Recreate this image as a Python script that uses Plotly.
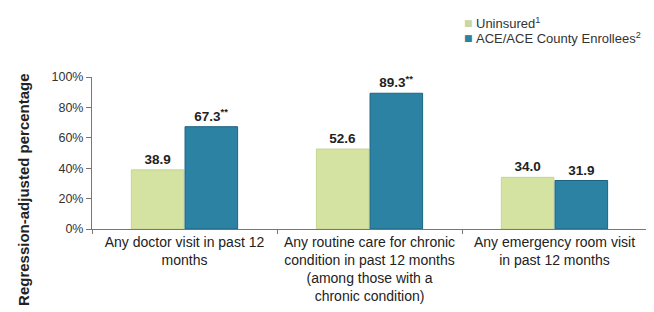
import plotly.graph_objects as go

categories = [
    "Any doctor visit in past 12<br>months",
    "Any routine care for chronic<br>condition in past 12 months<br>(among those with a<br>chronic condition)",
    "Any emergency room visit<br>in past 12 months",
]
uninsured = [38.9, 52.6, 34.0]
enrollees = [67.3, 89.3, 31.9]
enrollee_sig = ["**", "**", ""]
series_names = ["Uninsured<sup>1</sup>", "ACE/ACE County Enrollees<sup>2</sup>"]
y_ticks = [0, 20, 40, 60, 80, 100]
y_tick_labels = ["0%", "20%", "40%", "60%", "80%", "100%"]

GREEN = "#d4e2a2"
BLUE = "#2c82a2"
TXT = "#222222"
FONT = "Liberation Sans, Arial"

fig = go.Figure()
fig.add_trace(go.Bar(
    x=categories, y=uninsured, name=series_names[0],
    marker=dict(color=GREEN, line=dict(color="#c6d692", width=1)),
    text=[f"<b>{v:.1f}</b>" for v in uninsured], textposition="outside",
    textfont=dict(family=FONT, size=13.5, color=TXT),
    cliponaxis=False, showlegend=False,
))
fig.add_trace(go.Bar(
    x=categories, y=enrollees, name=series_names[1],
    marker=dict(color=BLUE, line=dict(color="#1d6380", width=1)),
    text=[f"<b>{v:.1f}<sup>{s}</sup></b>" if s else f"<b>{v:.1f}</b>" for v, s in zip(enrollees, enrollee_sig)],
    textposition="outside",
    textfont=dict(family=FONT, size=13.5, color=TXT),
    cliponaxis=False, showlegend=False,
))

# legend drawn as text annotations (marker + label)
legend_rows = [(1.355, "#c9d6a8", series_names[0]), (1.257, BLUE, series_names[1])]
for yy, col, name in legend_rows:
    fig.add_annotation(xref="paper", yref="paper", x=0.6775, y=yy, xanchor="center", yanchor="middle",
                       text="■", showarrow=False, font=dict(family="DejaVu Sans", size=9, color=col))
    fig.add_annotation(xref="paper", yref="paper", x=0.688, y=yy, xanchor="left", yanchor="middle",
                       text=name, showarrow=False, font=dict(family=FONT, size=13, color="#333"))

# y axis title
fig.add_annotation(xref="paper", yref="paper", x=-0.1225, y=0.257, xanchor="center", yanchor="middle",
                   text="<b>Regression-adjusted percentage</b>", textangle=-90, showarrow=False,
                   font=dict(family=FONT, size=15, color=TXT))

# page body has an 8px margin, so the figure is sized/offset to compensate
fig.update_layout(
    width=646, height=304,
    margin=dict(l=84, r=7, t=69, b=83),
    paper_bgcolor="white", plot_bgcolor="white",
    barmode="group", bargap=0.42, bargroupgap=0.02,
    font=dict(family=FONT, size=13, color=TXT),
)
fig.update_yaxes(
    range=[0, 100], tickvals=y_ticks, ticktext=y_tick_labels,
    showgrid=False, zeroline=False, showline=True, linecolor="#777", linewidth=1,
    ticks="outside", ticklen=5, tickcolor="#777",
    tickfont=dict(size=12.5, color="#333"), automargin=False,
)
fig.update_xaxes(
    showgrid=False, showline=True, linecolor="#777", linewidth=1,
    ticks="outside", ticklen=4, tickcolor="#777", tickson="boundaries",
    tickfont=dict(size=14, color=TXT), automargin=False,
)

fig.write_html("out.html")
